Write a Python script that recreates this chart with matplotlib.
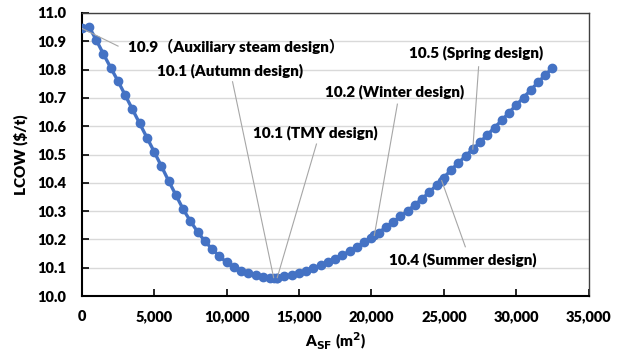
import matplotlib
matplotlib.use("Agg")
import matplotlib.pyplot as plt
import numpy as np
from matplotlib.ticker import FuncFormatter, MultipleLocator

plt.rcParams["font.family"] = ["Lato", "Noto Sans CJK SC", "DejaVu Sans"]
plt.rcParams["font.weight"] = "heavy"
plt.rcParams["mathtext.default"] = "bf"

# Solar field area sweep (m2) and LCOW ($/t)
area = [0, 500, 1000, 1500, 2000, 2500, 3000, 3500, 4000, 4500,
        5000, 5500, 6000, 6500, 7000, 7500, 8000, 8500, 9000, 9500,
        10000, 10500, 11000, 11500, 12000, 12500, 13000, 13500, 14000, 14500,
        15000, 15500, 16000, 16500, 17000, 17500, 18000, 18500, 19000, 19500,
        20000, 20500, 21000, 21500, 22000, 22500, 23000, 23500, 24000, 24500,
        25000, 25500, 26000, 26500, 27000, 27500, 28000, 28500, 29000, 29500,
        30000, 30500, 31000, 31500, 32000, 32500]
lcow = [10.946, 10.952, 10.905, 10.855, 10.807, 10.760, 10.710, 10.660, 10.610, 10.560,
        10.510, 10.459, 10.407, 10.357, 10.307, 10.265, 10.227, 10.194, 10.166, 10.141,
        10.119, 10.101, 10.089, 10.080, 10.073, 10.068, 10.065, 10.065, 10.069, 10.075,
        10.082, 10.090, 10.099, 10.109, 10.120, 10.132, 10.145, 10.159, 10.174, 10.190,
        10.206, 10.224, 10.243, 10.262, 10.281, 10.301, 10.322, 10.344, 10.367, 10.392,
        10.418, 10.446, 10.470, 10.495, 10.519, 10.544, 10.569, 10.595, 10.621, 10.648,
        10.675, 10.701, 10.728, 10.755, 10.781, 10.806]

# design points and their labels
design_names = ["10.9\uff08Auxiliary steam design\uff09", "10.1 (Autumn design)",
                "10.1 (TMY design)", "10.2 (Winter design)",
                "10.5 (Spring design)", "10.4 (Summer design)"]
design_area = [0, 13250, 13500, 20200, 27000, 24850]
design_lcow = [10.946, 10.065, 10.065, 10.214, 10.519, 10.408]
# where the leader line starts and where the label sits (data coords)
leader_start = [(2510, 10.883), (10414, 10.757), (16207, 10.537),
                (21793, 10.678), (27400, 10.810), (26483, 10.174)]
label_pos = [(3193, 10.883), (5172, 10.796), (11814, 10.577),
             (16779, 10.722), (22572, 10.858), (21193, 10.130)]

x_all = np.array(area + design_area[1:])
y_all = np.array(lcow + design_lcow[1:])
order = np.argsort(x_all, kind="stable")

fig = plt.figure(figsize=(6.26, 3.54), dpi=100)
ax = fig.add_axes([0.1305, 0.1638, 0.8099, 0.7995])

ax.plot(x_all[order], y_all[order], color="#4472C4", lw=2.4,
        marker="o", ms=6, zorder=3)

for name, (px, py), (sx, sy), (tx, ty) in zip(design_names, zip(design_area, design_lcow),
                                              leader_start, label_pos):
    ax.plot([px, sx], [py, sy], color="#a6a6a6", lw=0.8, zorder=4)
    ax.text(tx, ty, name, ha="left", va="center", fontsize=11, fontweight="heavy")

ax.set_xlim(0, 35000)
ax.set_ylim(10.0, 11.0)
ax.xaxis.set_major_locator(MultipleLocator(5000))
ax.yaxis.set_major_locator(MultipleLocator(0.1))
ax.xaxis.set_major_formatter(FuncFormatter(lambda v, p: f"{int(v):,}"))
ax.yaxis.set_major_formatter(FuncFormatter(lambda v, p: f"{v:.1f}"))
ax.grid(axis="y", color="#d9d9d9", lw=1)
ax.set_axisbelow(True)
ax.tick_params(direction="in", length=5, width=1.2, labelsize=10.5)
ax.tick_params(axis="y", pad=11)
ax.tick_params(axis="x", pad=10)
for lab in ax.get_xticklabels() + ax.get_yticklabels():
    lab.set_fontweight("heavy")

for side in ["left", "bottom"]:
    ax.spines[side].set_linewidth(1.5)
    ax.spines[side].set_color("black")
for side in ["top", "right"]:
    ax.spines[side].set_linewidth(1.0)
    ax.spines[side].set_color("#404040")

ax.set_xlabel(r"A$_{\mathbf{SF}}$ (m$^{\mathbf{2}}$)", fontsize=11, fontweight="heavy", labelpad=6)
ax.set_ylabel(r"LCOW (\$/t)", fontsize=11, fontweight="heavy", labelpad=7)

fig.savefig("out.png", dpi=100)
